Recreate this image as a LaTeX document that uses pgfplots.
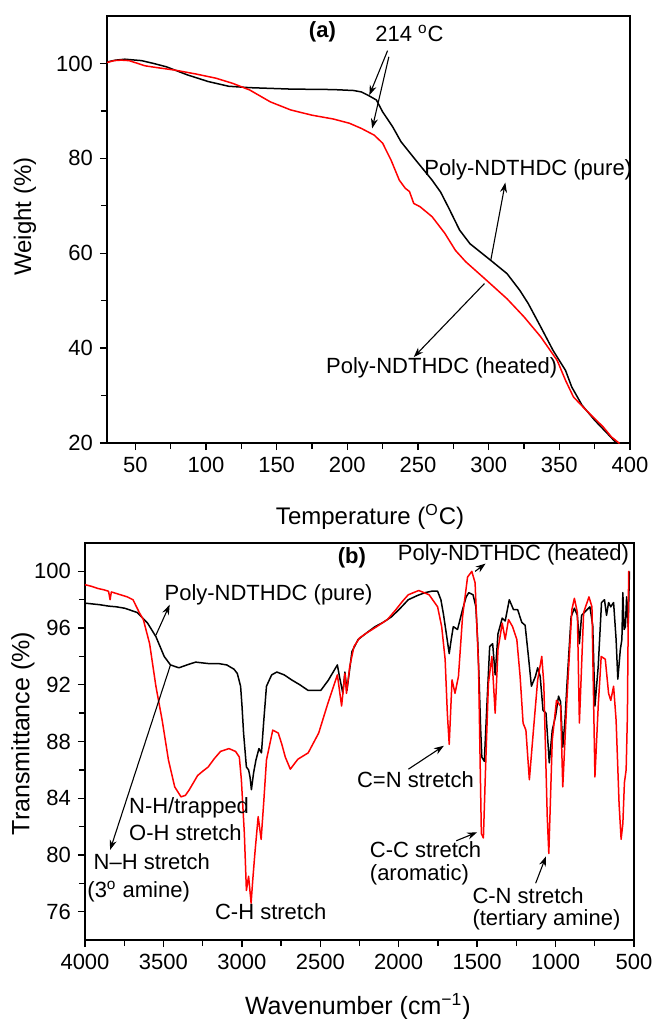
\documentclass[border=0pt]{standalone}
\usepackage{fontspec}
\setmainfont{Liberation Sans}
\usepackage{pgfplots}
\pgfplotsset{compat=1.18}
\usetikzlibrary{arrows.meta}
\pgfplotsset{
  common/.style={
    scale only axis,
    anchor=south west,
    axis line style={line width=0.9pt},
    tick style={line width=0.7pt,black},
    tick align=outside,
    tick pos=left,
    major tick length=3.5pt,
    minor tick length=3pt,
    tick label style={font=\fontsize{11}{13}\selectfont},
    /pgf/number format/assume math mode=true,
    /pgf/number format/1000 sep={},
    every axis plot/.append style={line width=0.75pt, line join=round, mark=none},
  },
}
\tikzset{
  ann/.style={font=\fontsize{11}{13}\selectfont, inner sep=0pt},
  arr/.style={-{Stealth[length=5pt,width=3.5pt]}, line width=0.55pt},
}
\begin{document}
\begin{tikzpicture}[x=1pt,y=1pt]
\path[use as bounding box] (0,0) rectangle (326,-509.5);
% ---------------- (a) TGA ----------------
\begin{axis}[common,
  width=261.5pt, height=213.5pt,
  at={(53.5pt,-221.5pt)},
  xmin=30, xmax=400, ymin=20, ymax=110,
  xtick={50,100,...,400}, ytick={20,40,...,100},
  minor xtick={75,125,...,375}, minor ytick={30,50,70,90},
  xlabel={Temperature (\textsuperscript{O}C)},
  ylabel={Weight (\%)},
  xlabel style={font=\fontsize{12}{14}\selectfont, at={(axis description cs:0.503,-0.173)}, anchor=center},
  ylabel style={font=\fontsize{12}{14}\selectfont, at={(axis description cs:-0.157,0.53)}, anchor=center, rotate=0},
]
\addplot[black] coordinates {
(30,100.3) (36,100.7) (42.6,100.9) (54.4,100.6) (63,100.0) (72,99.3) (86.8,97.6) (101.5,96.2)
(116,95.2) (131,94.9) (160,94.6) (190,94.5) (204.4,94.3) (210,94.0) (214.7,93.3) (220.6,92.3)
(225,89.8) (232,86.7) (238,83.5) (248.5,79.6) (260,75.4) (266,72.9) (272,69.4) (279.4,64.9)
(286.8,62.0) (301.5,58.5) (313,55.7) (322,52.2) (328,49.4) (336.8,44.5) (345.6,39.5)
(354.4,35.3) (358.8,31.8) (366,28.0) (375,24.8) (384,22.0) (389.7,20.2) (392.6,19.9)
};
\addplot[red] coordinates {
(30,100.2) (35,100.6) (40,100.7) (45.6,100.6) (57,99.5) (66,99.1) (78,98.6) (92.6,97.8)
(107,96.9) (119,95.8) (131,94.4) (145.6,91.9) (160,90.2) (175,89.1) (190,88.3) (201.5,87.4)
(210,86.3) (219,84.9) (225,83.2) (231,79.6) (236.8,75.4) (241,73.7) (244,73.0) (247,70.5)
(251.5,69.8) (260,67.7) (269,64.2) (276.5,60.6) (283.8,58.2) (298.5,54.3) (313,50.4)
(325,46.6) (336.8,42.4) (348.5,37.4) (354.4,33.2) (360,29.7) (369,26.9) (381,23.4)
(386.8,21.3) (392.6,19.9)
};
\node[ann] at (axis cs:182.4,106.7) {\textbf{(a)}};
\node[ann] at (axis cs:244,106.4) {214 \textsuperscript{o}C};
\draw[arr] (axis cs:228.5,102.7) -- (axis cs:215.6,93.3);
\draw[arr] (axis cs:229.4,101.4) -- (axis cs:217.6,86.3);
\node[ann] at (axis cs:328,77.5) {Poly-NDTHDC (pure)};
\draw[arr] (axis cs:301.5,58.5) -- (axis cs:311.8,74.9);
\node[ann] at (axis cs:266.8,35.9) {Poly-NDTHDC (heated)};
\draw[arr] (axis cs:297,53.6) -- (axis cs:247,38.1);
\end{axis}
% ---------------- (b) FTIR ----------------
\begin{axis}[common,
  width=274.5pt, height=198.5pt,
  at={(42.5pt,-470pt)},
  x dir=reverse,
  xmin=500, xmax=4000, ymin=74, ymax=102,
  xtick={500,1000,...,4000}, ytick={76,80,...,100},
  minor xtick={750,1250,...,3750}, minor ytick={78,82,...,98},
  xlabel={Wavenumber (cm\textsuperscript{\char"2212 1})},
  ylabel={Transmittance (\%)},
  xlabel style={font=\fontsize{12.5}{14}\selectfont, at={(axis description cs:0.497,-0.168)}, anchor=center},
  ylabel style={font=\fontsize{12.5}{14}\selectfont, at={(axis description cs:-0.113,0.52)}, anchor=center},
]
\addplot[black] coordinates {
(4000,97.76) (3950,97.7) (3907,97.65) (3850,97.55) (3800,97.5) (3747,97.4) (3667,97.1) (3601,96.35)
(3548,95.4) (3495,94.0) (3455,93.4) (3401,93.2) (3350,93.4) (3295,93.6) (3215,93.5)
(3150,93.5) (3096,93.4) (3050,93.1) (3029,92.8) (3008,91.9) (2999,90.5) (2989,88.6) (2971,86.2)
(2957,86.0) (2948,85.5) (2939,84.6) (2925,85.8) (2910,86.7) (2891,87.5) (2875,87.2) (2860,89.5)
(2843,91.9) (2810,92.7) (2777,92.9) (2730,92.7) (2683,92.35) (2630,92.0) (2577,91.6)
(2497,91.6) (2450,92.3) (2391,93.4) (2378,92.6) (2356,91.4) (2343,92.9) (2330,91.6)
(2298,94.35) (2258,95.2) (2200,95.7) (2151,96.1) (2100,96.4) (2045,96.8) (1990,97.4) (1939,98.0)
(1880,98.3) (1832,98.5) (1790,98.6) (1752,98.6) (1731,98.0) (1715,97.0) (1699,95.8) (1678,94.2)
(1665,95.2) (1652,96.1) (1625,95.9) (1593,97.3) (1570,98.2) (1553,98.5) (1526,98.35)
(1508,97.5) (1496,95.0) (1486,91.9) (1478,89.0) (1470,86.9) (1454,86.6) (1438,90.5)
(1420,94.7) (1401,94.9) (1385,92.7) (1367,95.6) (1340,96.7) (1321,96.5) (1295,98.0)
(1268,97.3) (1242,97.3) (1215,96.4) (1194,96.2) (1173,94.0) (1154,91.9) (1128,92.6)
(1114,93.2) (1098,92.6) (1080,90.2) (1061,90.0) (1040,86.5) (1021,88.8) (1000,89.8)
(981,91.2) (968,90.8) (954,87.6) (940,89.5) (928,91.9) (901,96.8) (880,97.4) (861,96.9) (848,94.9)
(834,96.9) (808,97.2) (781,97.5) (763,96.2) (749,90.5) (728,93.3) (707,97.8) (688,98.0)
(675,96.9) (662,97.8) (648,97.5) (630,97.8) (614,95.2) (603,92.4) (587,94.5) (577,95.2)
(571,98.5) (563,95.9) (555,96.1) (547,98.2) (537,96.1) (529,100.0)
};
\addplot[red] coordinates {
(4000,99.06) (3960,98.95) (3920,98.8) (3880,98.7) (3850,98.6) (3840,98.0) (3832,98.55) (3774,98.35)
(3730,98.2) (3694,98.0) (3654,97.1) (3628,96.6) (3588,94.9) (3548,91.9) (3508,89.5) (3468,86.7)
(3428,84.8) (3388,84.1) (3360,84.2) (3335,84.6) (3282,85.6) (3250,85.9) (3215,86.2) (3175,86.8)
(3136,87.3) (3082,87.5) (3040,87.3) (3016,86.9) (3003,85.3) (2994,83.5) (2984,81.5) (2971,77.5)
(2957,78.5) (2941,76.6) (2930,78.3) (2917,80.1) (2896,82.7) (2877,81.1) (2860,83.8)
(2843,86.7) (2803,88.8) (2768,88.6) (2745,87.8) (2723,86.9) (2691,86.05) (2643,86.75)
(2577,87.2) (2510,88.6) (2457,90.5) (2391,92.7) (2364,90.5) (2343,92.8) (2333,91.4)
(2312,93.3) (2285,94.7) (2250,95.3) (2205,95.65) (2140,96.1) (2072,96.6) (2018,97.3) (1975,97.9)
(1939,98.35) (1872,98.65) (1806,98.35) (1752,97.5) (1726,96.1) (1704,93.8) (1690,90.0) (1678,87.8)
(1660,92.35) (1641,91.4) (1619,92.6) (1593,96.8) (1561,99.6) (1534,100.0) (1513,99.2)
(1491,93.3) (1480,86.0) (1473,81.5) (1460,81.2) (1446,86.2) (1428,92.1) (1406,94.0)
(1385,90.0) (1367,94.5) (1340,96.35) (1321,95.2) (1300,96.6) (1274,96.1) (1247,95.2)
(1226,92.6) (1207,89.3) (1189,88.8) (1167,85.3) (1141,88.8) (1114,92.35) (1088,94.0)
(1075,92.1) (1053,82.7) (1043,80.1) (1021,88.1) (994,90.9) (968,90.5) (954,84.8) (928,90.9)
(896,97.3) (880,98.1) (861,97.1) (848,89.3) (821,97.1) (787,98.2) (768,97.5) (749,85.5)
(728,90.5) (709,94.0) (683,93.8) (662,91.4) (648,90.9) (630,91.9) (614,89.5) (595,83.6)
(582,81.1) (571,82.2) (561,85.1) (550,86.0) (542,89.8) (534,100.0) (529,100.0)
};
\node[ann] at (axis cs:2298,100.94) {\textbf{(b)}};
\node[ann] at (axis cs:1268,101.2) {Poly-NDTHDC (heated)};
\draw[arr] (axis cs:1513,100) -- (axis cs:1446,100.55);
\node[ann] at (axis cs:2830,98.35) {Poly-NDTHDC (pure)};
\draw[arr] (axis cs:3548,95.5) -- (axis cs:3460,97.65);
\draw[arr] (axis cs:3455,93.4) -- (axis cs:3840,80.35);
\node[ann,anchor=west] at (axis cs:3721,83.3) {N-H/trapped};
\node[ann,anchor=west] at (axis cs:3721,81.6) {O-H stretch};
\node[ann,anchor=west] at (axis cs:3947,79.5) {N--H stretch};
\node[ann,anchor=west] at (axis cs:3987,77.4) {(3\textsuperscript{o} amine)};
\node[ann] at (axis cs:2816,76.0) {C-H stretch};
\node[ann] at (axis cs:1893,85.3) {C=N stretch};
\draw[arr] (axis cs:1938,86.05) -- (axis cs:1712,87.7);
\node[ann,anchor=west] at (axis cs:2186,80.35) {C-C stretch};
\node[ann,anchor=west] at (axis cs:2186,78.6) {(aromatic)};
\draw[arr] (axis cs:1633,81.0) -- (axis cs:1500,81.6);
\node[ann,anchor=west] at (axis cs:1532,77.1) {C-N stretch};
\node[ann,anchor=west] at (axis cs:1532,75.4) {(tertiary amine)};
\draw[arr] (axis cs:1127,78.0) -- (axis cs:1061,79.9);
\end{axis}
\end{tikzpicture}
\end{document}
